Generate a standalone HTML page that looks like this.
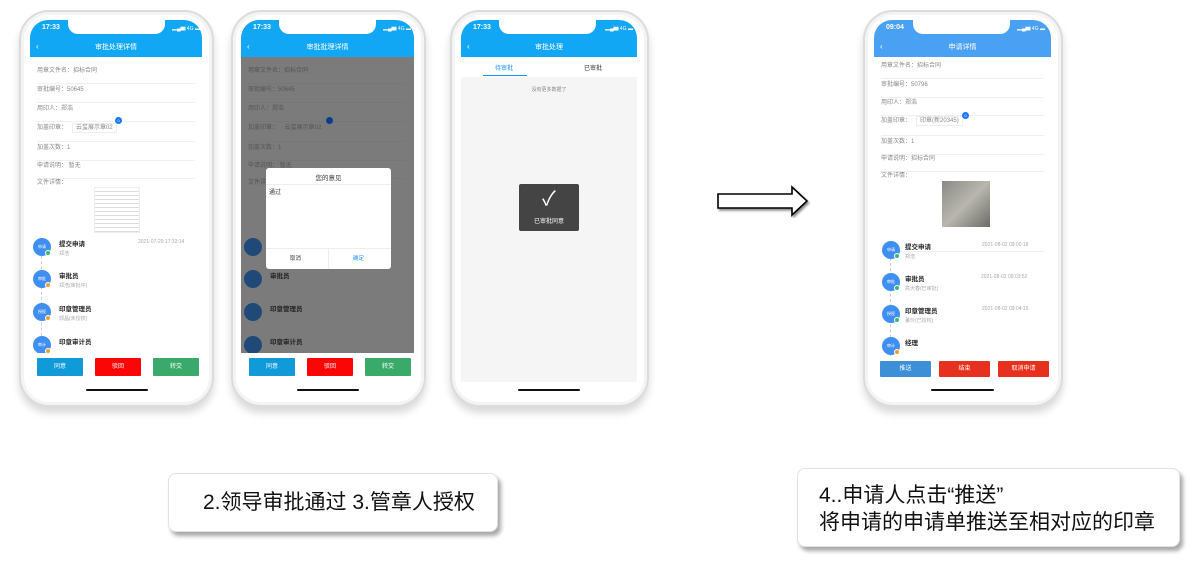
<!DOCTYPE html>
<html><head><meta charset="utf-8"><style>
*{margin:0;padding:0;box-sizing:border-box}
body{width:1192px;height:561px;background:#fff;position:relative;overflow:hidden;font-family:"Liberation Sans","Noto Sans CJK SC",sans-serif}
.a{position:absolute}
.phone{position:absolute;background:#fff;border:2px solid #dcdcdc;border-radius:30px;box-shadow:0 6px 8px rgba(0,0,0,.15),inset 0 0 0 3px #f4f4f4}
.scr{position:absolute;background:#fff;border-radius:18px 18px 6px 6px;overflow:hidden}
.hd{position:absolute;left:0;top:0;right:0;height:37px;background:#11a7f5}
.notch{position:absolute;top:0;height:14px;background:#fff;border-radius:0 0 10px 10px}
.tm{position:absolute;left:12px;top:4px;color:#fff;font-size:7px;font-weight:bold}
.sig{position:absolute;top:5px;color:#fff;font-size:5px}
.ttl{position:absolute;left:0;right:0;top:22px;text-align:center;color:#fff;font-size:7px}
.back{position:absolute;left:6px;top:22px;color:#fff;font-size:8px}
.row{position:absolute;left:7px;right:7px;font-size:6px;color:#888;border-bottom:1px solid #f0f0f0;height:19px;line-height:12px}
.cir{position:absolute;width:18px;height:18px;border-radius:50%;background:#3f8ff0;color:#fff;font-size:4px;text-align:center;line-height:18px}
.dot{position:absolute;width:6px;height:6px;border-radius:50%;border:1px solid #fff}
.t1{position:absolute;font-size:6.5px;color:#222;font-weight:bold}
.t2{position:absolute;font-size:5px;color:#aaa}
.btn{position:absolute;height:18px;color:#fff;font-size:6px;text-align:center;line-height:18px;border-radius:1px}
.home{position:absolute;height:2px;background:#111;border-radius:1px}
.cap{position:absolute;background:#fff;border:1px solid #e2e2e2;border-radius:8px;box-shadow:3px 4px 4px rgba(0,0,0,.35);color:#111}
</style></head><body>

<!-- Phone 1 -->
<div class="phone" style="left:19px;top:10px;width:195px;height:397px"></div>
<div class="scr" style="left:30px;top:20px;width:172px;height:373px">
 <div class="hd"></div><div class="notch" style="left:38px;width:97px"></div>
 <div class="tm">17:33</div><div class="sig" style="left:142px">▂▄▆ 4G ▬</div>
 <div class="back">‹</div><div class="ttl">审批处理详情</div>
 <div class="row" style="top:45px">用章文件名：招标合同</div>
 <div class="row" style="top:64px">审批编号：50645</div>
 <div class="row" style="top:83px">用印人：郑浩</div>
 <div class="row" style="top:102px;height:20px">加盖印章：&nbsp;&nbsp;&nbsp;<span style="border:1px solid #eee;padding:1px 3px">云玺展示章02</span></div>
 <div class="a" style="left:85px;top:97px;width:7px;height:7px;border-radius:50%;background:#1677ff;color:#fff;font-size:4px;text-align:center;line-height:7px">0</div>
 <div class="row" style="top:122px">加盖次数：1</div>
 <div class="row" style="top:140px">申请说明：&nbsp;暂无</div>
 <div class="row" style="top:157px;border:0">文件详情：</div>
 <div class="a" style="left:64px;top:167px;width:46px;height:46px;background:repeating-linear-gradient(#fff 0 3px,#ddd 3px 4px);border:1px solid #eee"></div>
 <div class="a" style="left:11px;top:236px;height:100px;border-left:1px dashed #ccc"></div>
 <div class="cir" style="left:3px;top:218px">申请</div><div class="dot" style="left:15px;top:230px;background:#3cb86a"></div>
 <div class="t1" style="left:29px;top:218px">提交申请</div><div class="t2" style="left:29px;top:230px">郑浩</div>
 <div class="t2" style="left:108px;top:219px">2021-07-29 17:33:14</div>
 <div class="cir" style="left:3px;top:250px">审批</div><div class="dot" style="left:15px;top:262px;background:#f0a020"></div>
 <div class="t1" style="left:29px;top:250px">审批员</div><div class="t2" style="left:29px;top:262px">郑浩(审批中)</div>
 <div class="cir" style="left:3px;top:283px">授权</div><div class="dot" style="left:15px;top:295px;background:#f0a020"></div>
 <div class="t1" style="left:29px;top:283px">印章管理员</div><div class="t2" style="left:29px;top:295px">郭晶(未授权)</div>
 <div class="cir" style="left:3px;top:316px">审计</div><div class="dot" style="left:15px;top:328px;background:#f0a020"></div>
 <div class="t1" style="left:29px;top:316px">印章审计员</div>
 <div class="a" style="left:0;right:0;top:333px;height:40px;background:#fff"></div>
 <div class="btn" style="left:7px;top:338px;width:46px;background:#109ad8">同意</div>
 <div class="btn" style="left:65px;top:338px;width:46px;background:#fb0606">驳回</div>
 <div class="btn" style="left:123px;top:338px;width:46px;background:#3aaa6a">转交</div>
 <div class="home" style="left:56px;top:369px;width:62px"></div>
</div>

<!-- Phone 2 -->
<div class="phone" style="left:231px;top:10px;width:195px;height:397px"></div>
<div class="scr" style="left:241px;top:20px;width:173px;height:373px">
 <div class="hd"></div><div class="notch" style="left:38px;width:97px"></div>
 <div class="tm">17:33</div><div class="sig" style="left:142px">▂▄▆ 4G ▬</div>
 <div class="back">‹</div><div class="ttl">审批批理详情</div>
 <div class="a" style="left:0;right:0;top:37px;height:296px;background:#7b7b7b"></div>
 <div class="row" style="top:45px;color:#555;border-color:#777">用章文件名：招标合同</div>
 <div class="row" style="top:64px;color:#555;border-color:#777">审批编号：50645</div>
 <div class="row" style="top:83px;color:#555;border-color:#777">用印人：郑浩</div>
 <div class="row" style="top:102px;height:20px;color:#555;border-color:#777">加盖印章：&nbsp;&nbsp;&nbsp;&nbsp;云玺展示章02</div>
 <div class="a" style="left:85px;top:97px;width:7px;height:7px;border-radius:50%;background:#0b3c8c"></div>
 <div class="row" style="top:122px;color:#555;border-color:#777">加盖次数：1</div>
 <div class="row" style="top:140px;color:#555;border-color:#777">申请说明：&nbsp;暂无</div>
 <div class="row" style="top:157px;color:#555;border:0">文件详情</div>
 <div class="cir" style="left:3px;top:218px;background:#1f4a78"></div>
 <div class="cir" style="left:3px;top:250px;background:#1f4a78"></div><div class="t1" style="left:29px;top:250px;color:#222">审批员</div>
 <div class="cir" style="left:3px;top:283px;background:#1f4a78"></div><div class="t1" style="left:29px;top:283px;color:#222">印章管理员</div>
 <div class="cir" style="left:3px;top:316px;background:#1f4a78"></div><div class="t1" style="left:29px;top:316px;color:#222">印章审计员</div>
 <div class="a" style="left:25px;top:148px;width:125px;height:101px;background:#fff;border-radius:3px">
  <div class="a" style="left:0;right:0;top:4px;text-align:center;font-size:6.5px;color:#333">您的意见</div>
  <div class="a" style="left:0;right:0;top:16px;border-top:1px solid #eee"></div>
  <div class="a" style="left:3px;top:19px;font-size:6px;color:#333">通过</div>
  <div class="a" style="left:0;right:0;top:80px;border-top:1px solid #eee"></div>
  <div class="a" style="left:62px;top:80px;height:21px;border-left:1px solid #eee"></div>
  <div class="a" style="left:24px;top:86px;font-size:5.5px;color:#333">取消</div>
  <div class="a" style="left:87px;top:86px;font-size:5.5px;color:#1890ff">确定</div>
 </div>
 <div class="a" style="left:0;right:0;top:333px;height:40px;background:#fff"></div>
 <div class="btn" style="left:8px;top:338px;width:46px;background:#109ad8">同意</div>
 <div class="btn" style="left:66px;top:338px;width:46px;background:#fb0606">驳回</div>
 <div class="btn" style="left:124px;top:338px;width:46px;background:#3aaa6a">转交</div>
 <div class="home" style="left:56px;top:369px;width:62px"></div>
</div>

<!-- Phone 3 -->
<div class="phone" style="left:450px;top:10px;width:199px;height:397px"></div>
<div class="scr" style="left:461px;top:20px;width:176px;height:373px;background:#f5f5f5">
 <div class="hd"></div><div class="notch" style="left:38px;width:97px"></div>
 <div class="tm">17:33</div><div class="sig" style="left:144px">▂▄▆ 4G ▬</div>
 <div class="back">‹</div><div class="ttl">审批处理</div>
 <div class="a" style="left:0;right:0;top:37px;height:20px;background:#fff"></div>
 <div class="a" style="left:34px;top:43px;font-size:6px;color:#1890ff">待审批</div>
 <div class="a" style="left:123px;top:43px;font-size:6px;color:#333">已审批</div>
 <div class="a" style="left:22px;top:55px;width:44px;height:1px;background:#1890ff"></div>
 <div class="a" style="left:0;right:0;top:66px;text-align:center;font-size:5px;color:#888">没有更多数据了</div>
 <div class="a" style="left:58px;top:164px;width:60px;height:47px;background:#444;border-radius:2px">
  <div class="a" style="left:0;right:0;top:5px;text-align:center;color:#fff;font-size:20px;line-height:20px">✓</div>
  <div class="a" style="left:0;right:0;top:32px;text-align:center;color:#fff;font-size:6px">已审批同意</div>
 </div>
 <div class="a" style="left:0;right:0;top:362px;height:11px;background:#fff"></div>
 <div class="home" style="left:57px;top:369px;width:62px"></div>
</div>

<!-- Arrow -->
<svg class="a" style="left:712px;top:182px" width="104" height="40">
 <defs><filter id="s"><feDropShadow dx="1.5" dy="2" stdDeviation="1" flood-opacity=".45"/></filter></defs>
 <polygon points="6,12 80,12 80,5 95,19 80,33 80,26 6,26" fill="#fff" stroke="#000" stroke-width="1.6" filter="url(#s)"/>
</svg>

<!-- Phone 4 -->
<div class="phone" style="left:863px;top:10px;width:200px;height:397px"></div>
<div class="scr" style="left:874px;top:20px;width:177px;height:373px">
 <div class="hd" style="background:#4aa1f3"></div><div class="notch" style="left:39px;width:97px"></div>
 <div class="tm">09:04</div><div class="sig" style="left:143px">▂▄▆ 4G ▬</div>
 <div class="back">‹</div><div class="ttl">申请详情</div>
 <div class="row" style="top:40px">用章文件名：招标合同</div>
 <div class="row" style="top:59px">审批编号：50796</div>
 <div class="row" style="top:77px">用印人：郑浩</div>
 <div class="row" style="top:95px;height:21px">加盖印章：&nbsp;&nbsp;&nbsp;<span style="border:1px solid #eee;padding:1px 3px">印章(新20345)</span></div>
 <div class="a" style="left:88px;top:92px;width:7px;height:7px;border-radius:50%;background:#1677ff;color:#fff;font-size:4px;text-align:center;line-height:7px">0</div>
 <div class="row" style="top:116px">加盖次数：1</div>
 <div class="row" style="top:133px">申请说明：招标合同</div>
 <div class="row" style="top:150px;height:82px">文件详情：</div>
 <div class="a" style="left:68px;top:161px;width:48px;height:46px;background:linear-gradient(135deg,#8a8a84,#b8b6ae 50%,#6c6c68)"></div>
 <div class="a" style="left:16px;top:238px;height:100px;border-left:1px dashed #ccc"></div>
 <div class="cir" style="left:8px;top:221px">申请</div><div class="dot" style="left:20px;top:233px;background:#3cb86a"></div>
 <div class="t1" style="left:31px;top:221px">提交申请</div><div class="t2" style="left:31px;top:233px">郑浩</div>
 <div class="t2" style="left:108px;top:222px">2021-08-02 09:00:18</div>
 <div class="cir" style="left:8px;top:253px">审批</div><div class="dot" style="left:20px;top:265px;background:#3cb86a"></div>
 <div class="t1" style="left:31px;top:253px">审批员</div><div class="t2" style="left:31px;top:265px">高大春(已审批)</div>
 <div class="t2" style="left:107px;top:254px">2021-08-02 09:03:52</div>
 <div class="cir" style="left:8px;top:285px">授权</div><div class="dot" style="left:20px;top:297px;background:#3cb86a"></div>
 <div class="t1" style="left:31px;top:285px">印章管理员</div><div class="t2" style="left:31px;top:297px">董玲(已授权)</div>
 <div class="t2" style="left:108px;top:286px">2021-08-02 09:04:15</div>
 <div class="cir" style="left:8px;top:317px">审计</div><div class="dot" style="left:20px;top:329px;background:#f0a020"></div>
 <div class="t1" style="left:31px;top:317px">经理</div>
 <div class="a" style="left:0;right:0;top:336px;height:37px;background:#fff"></div>
 <div class="btn" style="left:6px;top:341px;width:51px;height:16px;line-height:16px;background:#3d8fd8">推送</div>
 <div class="btn" style="left:65px;top:341px;width:51px;height:16px;line-height:16px;background:#e8301f">结束</div>
 <div class="btn" style="left:124px;top:341px;width:51px;height:16px;line-height:16px;background:#e8301f">取消申请</div>
 <div class="home" style="left:57px;top:369px;width:63px"></div>
</div>

<!-- Captions -->
<div class="cap" style="left:168px;top:473px;width:330px;height:59px">
 <div class="a" style="left:34px;top:17px;font-size:21px;line-height:24px;white-space:nowrap">2.领导审批通过 3.管章人授权</div>
</div>
<div class="cap" style="left:797px;top:468px;width:383px;height:79px">
 <div class="a" style="left:21px;top:13px;font-size:21px;line-height:27px;white-space:nowrap">4..申请人点击“推送”<br>将申请的申请单推送至相对应的印章</div>
</div>
</body></html>
